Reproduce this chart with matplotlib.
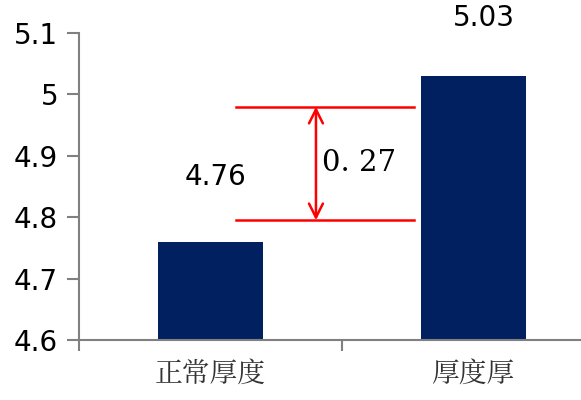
import matplotlib.pyplot as plt

plt.rcParams['font.family'] = ['DejaVu Sans', 'Noto Sans CJK SC']

# data
categories = ['正常厚度', '厚度厚']
values = [4.76, 5.03]
value_labels = ['4.76', '5.03']
label_y = [4.866, 5.124]
label_dx = [0.02, 0.04]
bracket_levels = [4.98, 4.795]
diff_text = '0. 27'

navy = '#002060'
gray = '#808080'
red = '#ff0000'

fig = plt.figure(figsize=(5.81, 4.00), dpi=100)
# axes runs a bit past the right edge, as in the original
ax = fig.add_axes([79 / 581, 60 / 400, 526 / 581, 307 / 400])

x = list(range(len(categories)))
ax.bar(x, values, width=0.4, bottom=0, color=navy, zorder=2)

ax.set_xlim(-0.5, 1.5)
ax.set_ylim(4.6, 5.1)
ax.set_yticks([4.6, 4.7, 4.8, 4.9, 5.0, 5.1])
ax.set_yticklabels(['4.6', '4.7', '4.8', '4.9', '5', '5.1'], fontsize=20)
ax.set_xticks([-0.5, 0.5, 1.5])
ax.set_xticklabels([])
ax.tick_params(axis='y', length=9, width=1.5, color=gray, pad=6)
ax.tick_params(axis='x', length=8, width=1.5, color=gray)
for i, c in enumerate(categories):
    ax.text(i, 4.545, c, ha='center', va='center', fontsize=20,
            family=['Noto Serif CJK SC', 'Noto Sans CJK SC'], color='#333333', clip_on=False)

for s in ['top', 'right']:
    ax.spines[s].set_visible(False)
for s in ['left', 'bottom']:
    ax.spines[s].set_color(gray)
    ax.spines[s].set_linewidth(1.5)

# value labels
for i, (lab, ly) in enumerate(zip(value_labels, label_y)):
    ax.text(i + label_dx[i], ly, lab, ha='center', va='center', fontsize=20,
            color='black', clip_on=False)

# red bracket
for lv in bracket_levels:
    ax.plot([0.097, 0.774], [lv, lv], color=red, lw=1.8, zorder=3)
ax.annotate('', xy=(0.401, bracket_levels[0]), xytext=(0.401, bracket_levels[1]),
            arrowprops=dict(arrowstyle='<->', color=red, lw=1.8,
                            mutation_scale=25, shrinkA=0, shrinkB=0))
ax.text(0.424, 4.888, diff_text, ha='left', va='center', fontsize=21,
        family='DejaVu Serif', color='black')

fig.savefig('out.png', dpi=100)
